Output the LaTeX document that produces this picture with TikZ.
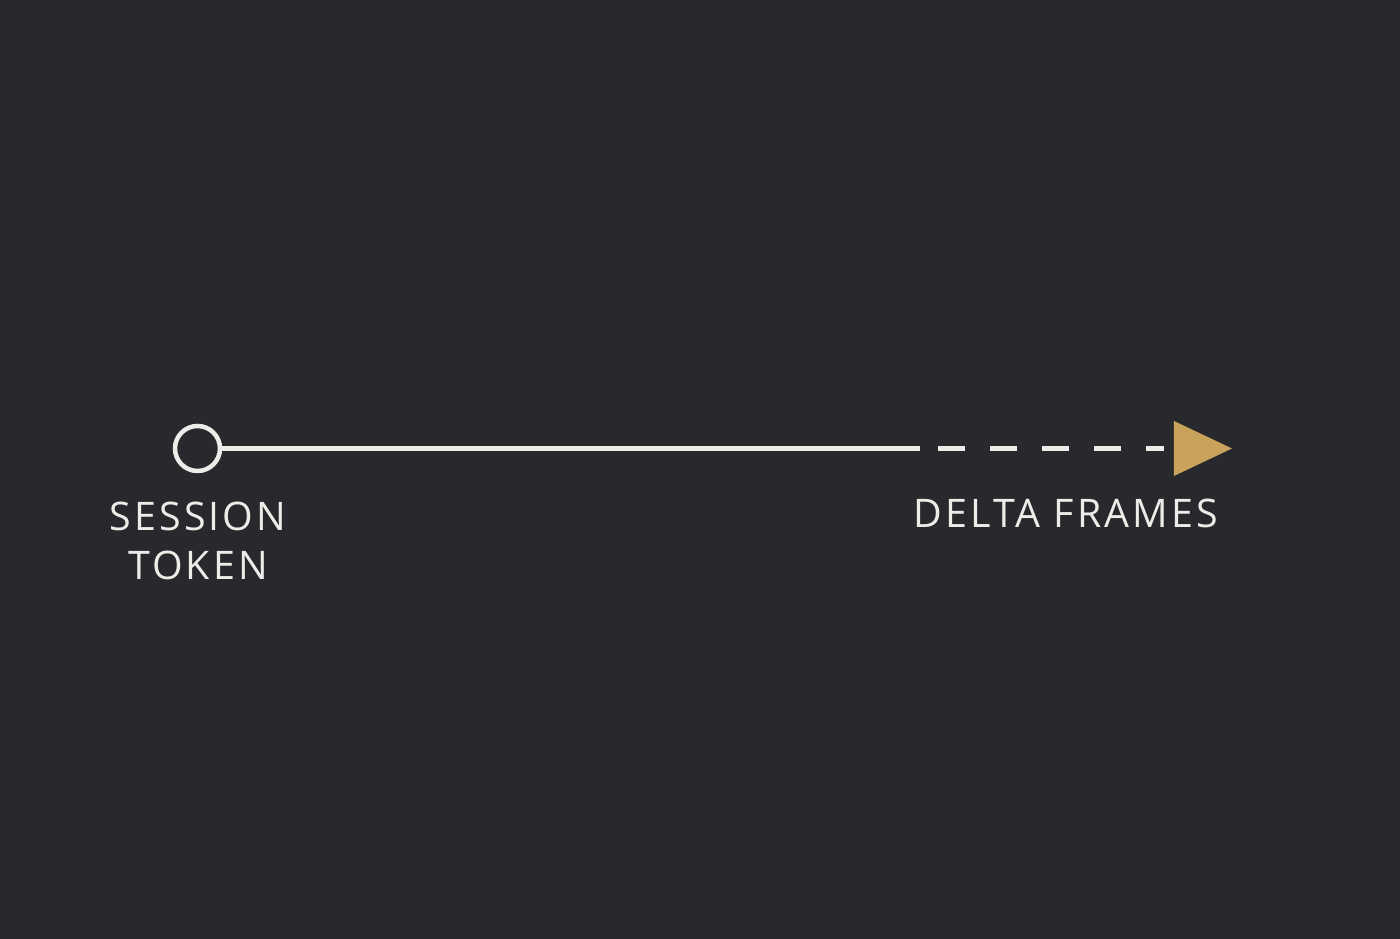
\documentclass[tikz,border=0pt]{standalone}
\usepackage{fontspec}
\setmainfont[LetterSpace=8]{Open Sans}
\usepackage{xcolor}
\definecolor{boardbg}{RGB}{40,41,44}
\definecolor{chalk}{RGB}{236,236,232}
\definecolor{chalkgold}{RGB}{201,163,92}
\usetikzlibrary{positioning}
\usetikzlibrary{shapes.geometric}
\usepackage{tikz}

\begin{document}
\begin{tikzpicture}[font=\fontsize{11.2}{14.2}\selectfont,
      chalk line/.style={draw=chalk,line width=0.045cm},
      start style/.style={circle,draw=chalk,line width=0.045cm,minimum
        size=0.45cm,inner sep=0pt},
      tip style/.style={isosceles triangle,isosceles triangle
        stretches,fill=chalkgold,draw=none,inner sep=0pt,minimum
        width=0.55cm,minimum height=0.58cm},
      label style/.style={text=chalk,align=center,anchor=base}
      ]
      \fill[boardbg] (0,0) rectangle (14,9.39);
      \useasboundingbox (0,0) rectangle (14,9.39);

      \node[start style] (token) at (1.975,4.905) {};
      \coordinate[right=6.98cm of token] (solidend);
      \node[tip style, right=9.51cm of token] (frames) {};

      \node[label style] (tokentext) at (1.98,3.59) {SESSION\\TOKEN};
      \node[label style] (framestext) at (10.66,4.11) {DELTA FRAMES};

      \draw[chalk line] (token) -- (solidend);
      \draw[chalk line,dash pattern=on 0.27cm off 0.25cm,dash
        phase=0.34cm,shorten >=0.09cm] (solidend) -- (frames);
    \end{tikzpicture}
\end{document}
